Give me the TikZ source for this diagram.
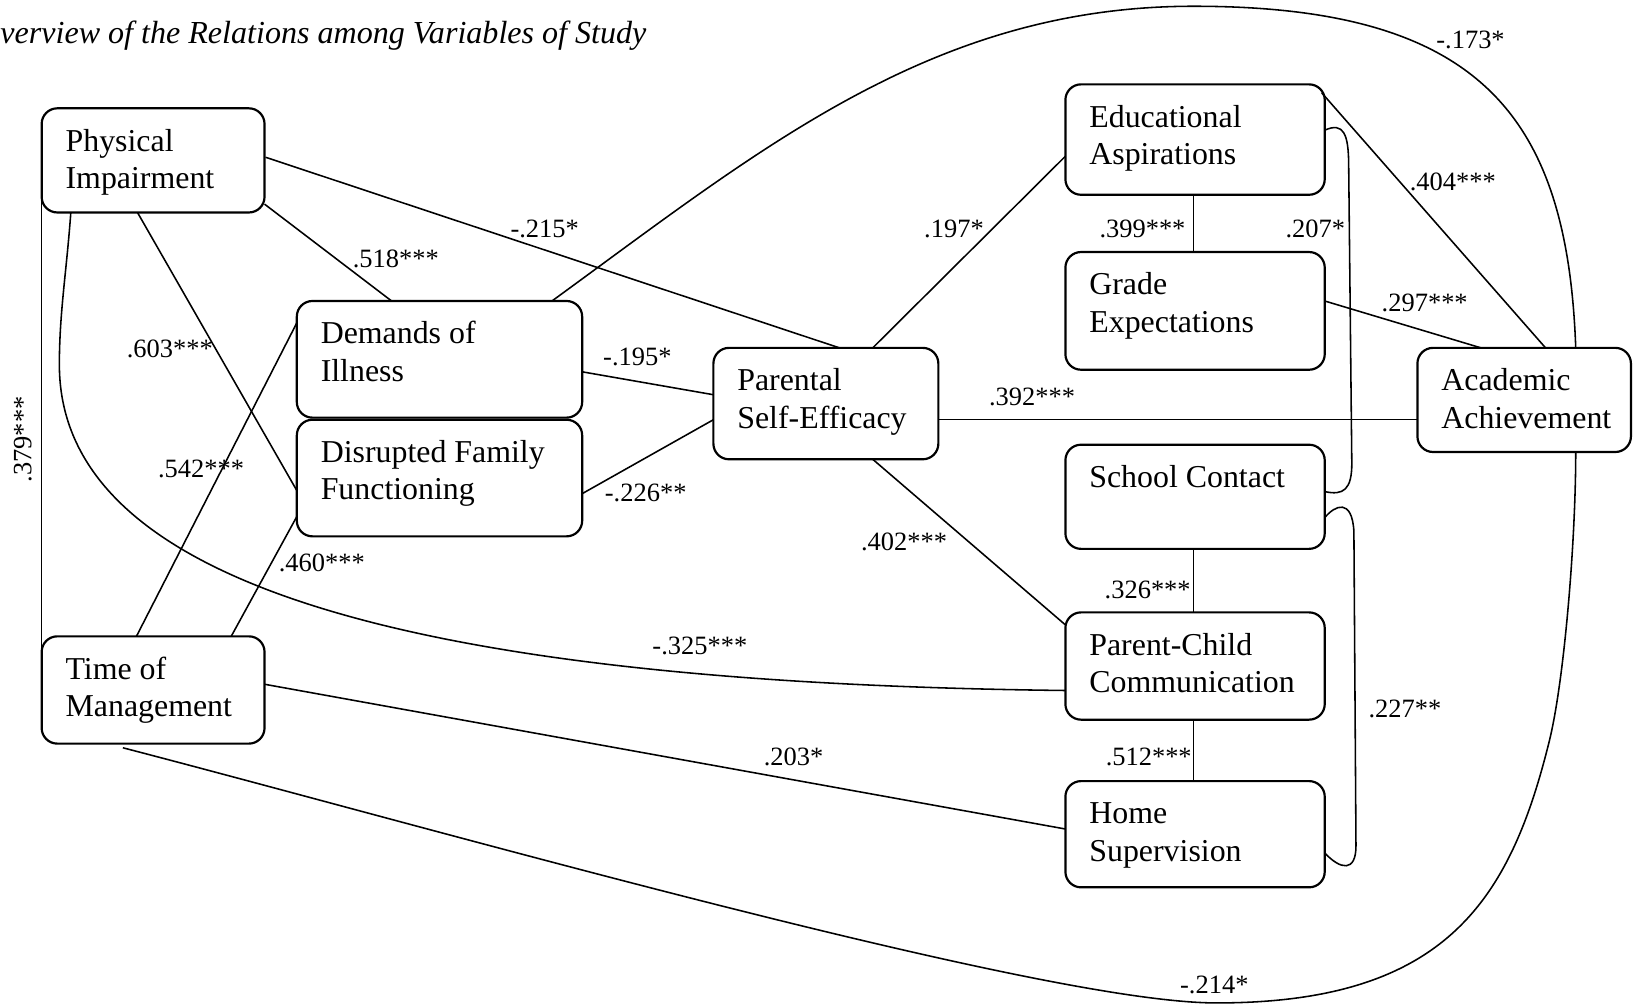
\documentclass[tikz,border=0pt]{standalone}
\usepackage{fontspec}
\setmainfont{Liberation Serif}
\usetikzlibrary{calc}

% text block of a variable box: width, inner height, lines
\newcommand\vartxt[3]{\parbox[t][#2][t]{#1}{\raggedright\leftskip=11.5pt\strut#3}}

\tikzset{
  var/.style={draw, line width=1.05pt, rounded corners=7.5pt, inner xsep=0pt,
    inner ysep=7.9pt, outer sep=0pt, anchor=north west,
    font=\fontsize{15.3}{18}\selectfont},
  coef/.style={inner sep=0pt, font=\fontsize{12.7}{15}\selectfont},
  link/.style={line width=0.75pt},
}

\begin{document}
\begin{tikzpicture}[x=0.5pt, y=-0.5pt]
\fill[white] (0,0) rectangle (1568,965);
\useasboundingbox (0,0) rectangle (1568,965);

\node[anchor=base west, inner sep=0pt, font=\fontsize{15.4}{18}\selectfont\itshape]
  (title) at (0,42) {verview of the Relations among Variables of Study};

% variables
\node[var] (PI)  at (40,104)   {\vartxt{107pt}{34.2pt}{Physical\\Impairment}};
\node[var] (DI)  at (285,289)  {\vartxt{137pt}{40.2pt}{Demands of\\Illness}};
\node[var] (DF)  at (285,403)  {\vartxt{137pt}{40.2pt}{Disrupted Family\\Functioning}};
\node[var] (TM)  at (40,611)   {\vartxt{107pt}{35.7pt}{Time of\\Management}};
\node[var] (PSE) at (685,334)  {\vartxt{108pt}{37.7pt}{Parental\\Self-Efficacy}};
\node[var] (EA)  at (1023,81)  {\vartxt{124.5pt}{37.2pt}{Educational\\Aspirations}};
\node[var] (GE)  at (1023,242) {\vartxt{124.5pt}{40.7pt}{Grade\\Expectations}};
\node[var] (SC)  at (1023,427) {\vartxt{124.5pt}{34.2pt}{School Contact}};
\node[var] (PCC) at (1023,588) {\vartxt{124.5pt}{35.7pt}{Parent-Child\\Communication}};
\node[var] (HS)  at (1023,750) {\vartxt{124.5pt}{35.2pt}{Home\\Supervision}};
\node[var] (AA)  at (1361,334) {\vartxt{102.5pt}{34.2pt}{Academic\\Achievement}};

% straight paths
\draw[link] ($(PI.north west)+(214,92)$) -- ($(DI.north west)+(91,0)$);
\draw[link] ($(PI.north west)+(215,47)$) -- ($(PSE.north west)+(121,0)$);
\draw[link] ($(PI.north west)+(92,100)$) -- ($(DF.north west)+(0,68)$);
\draw[link] ($(PI.north west)+(0,85)$) -- ($(TM.north west)+(0,15)$);
\draw[link] ($(TM.north west)+(91,0)$) -- ($(DI.north west)+(0,21)$);
\draw[link] ($(TM.north west)+(182,0)$) -- ($(DF.north west)+(0,93)$);
\draw[link] ($(TM.north west)+(214,46)$) -- ($(HS.north west)+(0,46)$);
\draw[link] ($(DI.north west)+(274,68)$) -- ($(PSE.north west)+(0,45)$);
\draw[link] ($(DF.north west)+(274,71)$) -- ($(PSE.north west)+(0,69)$);
\draw[link] ($(PSE.north west)+(153,0)$) -- ($(EA.north west)+(0,69)$);
\draw[link] ($(PSE.north west)+(216,69)$) -- ($(AA.north west)+(0,69)$);
\draw[link] ($(PSE.north west)+(153,107)$) -- ($(PCC.north west)+(0,12)$);
\draw[link] ($(EA.north west)+(123,106)$) -- ($(GE.north west)+(123,0)$);
\draw[link] ($(EA.north west)+(246,8)$) -- ($(AA.north west)+(123,0)$);
\draw[link] ($(GE.north west)+(249,47)$) -- ($(AA.north west)+(61,0)$);
\draw[link] ($(SC.north west)+(123,100)$) -- ($(PCC.north west)+(123,0)$);
\draw[link] ($(PCC.north west)+(123,103)$) -- ($(HS.north west)+(123,0)$);

% curved paths
\draw[link] ($(PI.north west)+(28,100)$) .. controls (64,260) and (57,300) .. (57,350)
  .. controls (57,540) and (330,655) .. ($(PCC.north west)+(0,75)$);
\draw[link] ($(DI.north west)+(245,0)$) .. controls (732,142) and (896,6) .. (1146,6)
  .. controls (1420,6) and (1505,110) .. ($(AA.north west)+(152,0)$);
\draw[link] ($(TM.north west)+(78,107)$) .. controls (418,796) and (1000,963) .. (1168,963)
  .. controls (1388,963) and (1450,865) .. (1488,710)
  .. controls (1502,652) and (1513,520) .. ($(AA.north west)+(152,100)$);
\draw[link] ($(EA.north west)+(249,44)$) .. controls (1290,117) and (1295,128) .. (1295,160)
  -- (1298,445) .. controls (1298,470) and (1290,476) .. ($(SC.north west)+(249,45)$);
\draw[link] ($(SC.north west)+(249,70)$) .. controls (1282,485) and (1298,478) .. (1300,510)
  -- (1302,812) .. controls (1302,838) and (1287,835) .. ($(HS.north west)+(249,69)$);

% coefficients
\node[coef] (c518) at (380,249) {.518***};
\node[coef] (c215) at (523,220) {-.215*};
\node[coef] (c603) at (163,335) {.603***};
\node[coef] (c542) at (193,450) {.542***};
\node[coef] (c460) at (309,540) {.460***};
\node[coef, rotate=90] (c379) at (22,422) {.379***};
\node[coef] (c195) at (612,343) {-.195*};
\node[coef] (c226) at (620,473) {-.226**};
\node[coef] (c197) at (916,220) {.197*};
\node[coef] (c392) at (991,381) {.392***};
\node[coef] (c402) at (868,520) {.402***};
\node[coef] (c399) at (1097,220) {.399***};
\node[coef] (c207) at (1263,220) {.207*};
\node[coef] (c404) at (1395,175) {.404***};
\node[coef] (c297) at (1368,291) {.297***};
\node[coef] (c173) at (1412,38) {-.173*};
\node[coef] (c326) at (1102,566) {.326***};
\node[coef] (c512) at (1103,727) {.512***};
\node[coef] (c227) at (1349,681) {.227**};
\node[coef] (c203) at (762,727) {.203*};
\node[coef] (c325) at (672,620) {-.325***};
\node[coef] (c214) at (1166,946) {-.214*};
\end{tikzpicture}
\end{document}
